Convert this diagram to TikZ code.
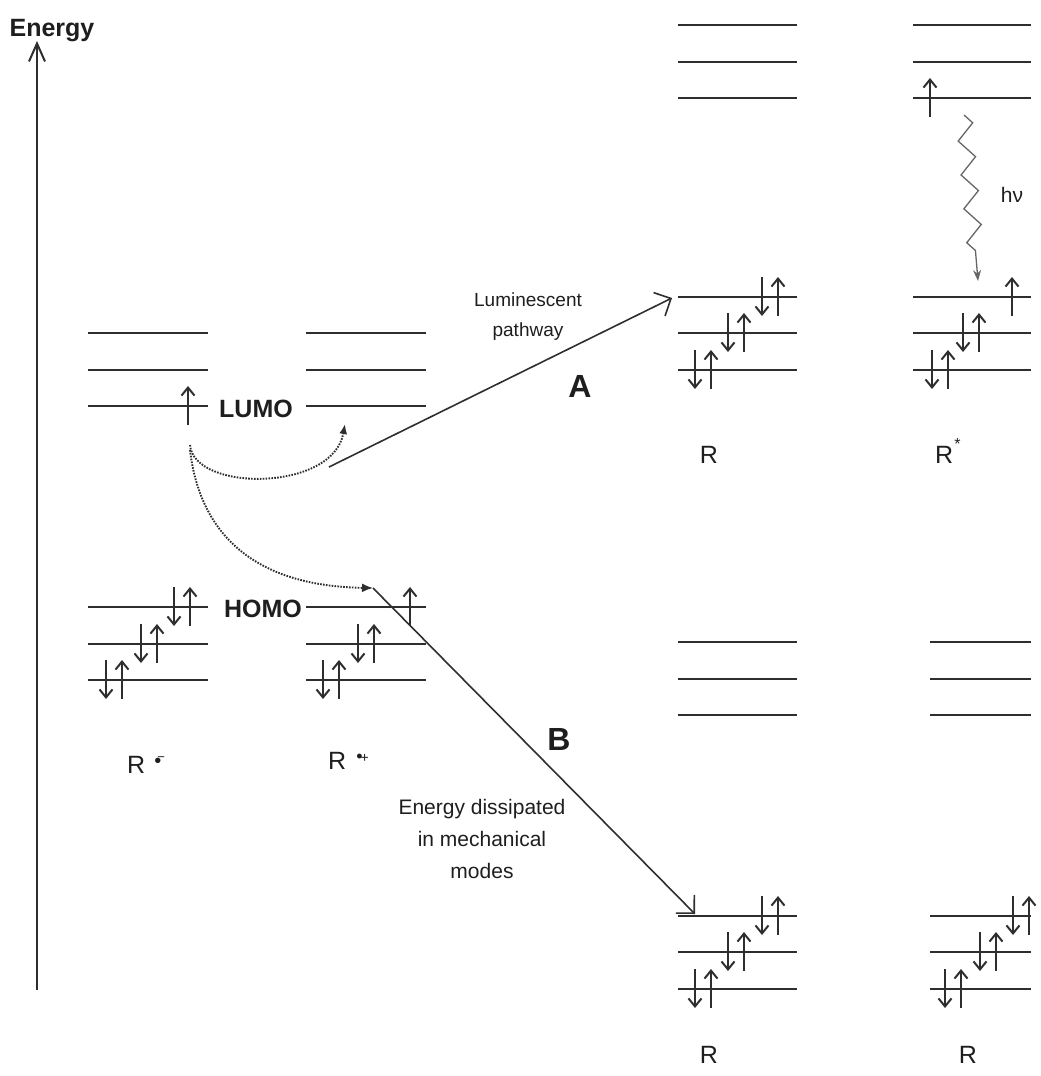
\documentclass[tikz,border=0pt]{standalone}
\usepackage{fontspec}
\setmainfont{Liberation Sans}
\usetikzlibrary{arrows.meta,decorations.pathmorphing}
\definecolor{ink}{HTML}{2E2E2E}
\definecolor{txt}{HTML}{1E1E1E}
\newcommand\lev[3]{\draw[level] (#1,#3) -- (#2,#3);}
\newcommand\spinup[2]{\draw[spin] (#1,#2+19) -- (#1,#2-20);}
\newcommand\spindn[2]{\draw[spin] (#1,#2-20) -- (#1,#2+19);}
\newcommand\spinpair[2]{\spindn{#1}{#2}\spinup{#1+16}{#2}}
\begin{document}
\begin{tikzpicture}[x=1pt,y=-1pt,
  level/.style={draw=ink,line width=1.6pt},
  spin/.style={draw=ink,line width=2pt,-{Straight Barb[length=8pt,width=13pt]}},
  bold/.style={text=txt,font=\fontsize{25}{28}\selectfont\bfseries,anchor=base,inner sep=0pt},
  big/.style={text=txt,font=\fontsize{32}{34}\selectfont\bfseries,anchor=base,inner sep=0pt},
  plain/.style={text=txt,font=\fontsize{25}{28}\selectfont,anchor=base,inner sep=0pt},
  small/.style={text=txt,anchor=base,inner sep=0pt,align=center},
  path/.style={draw=ink,line width=1.6pt,-{Straight Barb[length=13pt,width=26pt]}},
  dots/.style={draw=ink,line width=1.9pt,dash pattern=on 1.6pt off 1.3pt},
]
\useasboundingbox (0,0) rectangle (1041,1076);

% energy axis
\node[bold] (energy) at (52,36) {Energy};
\coordinate (ax0) at (37,990);
\coordinate (ax1) at (37,41);
\draw[draw=ink,line width=2pt,-{Straight Barb[length=18pt,width=16pt]}] (ax0) -- (ax1);

% column 1 (R radical anion)
\foreach \y in {333,370,406,607,644,680} {\lev{88}{208}{\y}}
\spinup{188}{406}
\spinpair{174}{607}
\spinpair{141}{644}
\spinpair{106}{680}
\node[bold] (lumo) at (256,417) {LUMO};
\node[bold] (homo) at (263,617) {HOMO};
\node[plain,anchor=base west] (rm) at (127,773) {R\kern9pt\raisebox{6pt}{\fontsize{20}{20}\selectfont •}\kern-4pt\raisebox{12pt}{\fontsize{13}{13}\selectfont −}};

% column 2 (R radical cation)
\foreach \y in {333,370,406,607,644,680} {\lev{306}{426}{\y}}
\spinup{410}{607}
\spinpair{358}{644}
\spinpair{323}{680}
\node[plain,anchor=base west] (rp) at (328,769) {R\kern10pt\raisebox{7pt}{\fontsize{18}{18}\selectfont •}\kern-2pt\raisebox{7pt}{\fontsize{14}{14}\selectfont +}};

% column 3 top (R)
\foreach \y in {25,62,98,297,333,370} {\lev{678}{797}{\y}}
\spinpair{762}{297}
\spinpair{728}{333}
\spinpair{695}{370}
\node[plain] (r1) at (709,463) {R};

% column 4 top (R*)
\foreach \y in {25,62,98,297,333,370} {\lev{913}{1031}{\y}}
\spinup{930}{98}
\spinup{1012}{297}
\spinpair{963}{333}
\spinpair{932}{370}
\node[plain,anchor=base west] (r2) at (935,463) {R\kern1pt\raisebox{14pt}{\fontsize{16}{16}\selectfont *}};

% column 3 bottom (R)
\foreach \y in {642,679,715,916,952,989} {\lev{678}{797}{\y}}
\spinpair{762}{916}
\spinpair{728}{952}
\spinpair{695}{989}
\node[plain] (r3) at (709,1063) {R};

% column 4 bottom (R)
\foreach \y in {642,679,715,916,952,989} {\lev{930}{1031}{\y}}
\spinpair{1013}{916}
\spinpair{980}{952}
\spinpair{945}{989}
\node[plain] (r4) at (968,1063) {R};

% photon emission
\coordinate (hv0) at (964,115);
\coordinate (hv1) at (978,281);
\draw[draw=gray!80!black,line width=1.3pt,decorate,
  decoration={zigzag,segment length=34pt,amplitude=8pt,post length=14pt},
  -{Stealth[length=11pt,width=8pt]}] (hv0) -- (hv1);
\node[small,font=\fontsize{21}{24}\selectfont] (hv) at (1012,202) {hν};

% electron transfer (dotted)
\coordinate (e0) at (190,445);
\coordinate (e1) at (190,450);
\coordinate (lumoend) at (345,424);
\coordinate (homoend) at (373,588);
\draw[dots,-{Latex[length=10pt,width=8pt]}] (e0) .. controls (194,492) and (333,492) .. (lumoend);
\draw[dots,-{Latex[length=11pt,width=9pt]}] (e1) .. controls (200,535) and (255,586) .. (homoend);

% pathways
\coordinate (a0) at (329,467);
\coordinate (a1) at (672,298);
\coordinate (b1) at (695,914);
\draw[path] (a0) -- (a1);
\draw[path] (homoend) -- (b1);

\node[small,font=\fontsize{19}{30}\selectfont] (lum) at (528,336) {Luminescent\\pathway};
\node[big] (la) at (580,397) {A};
\node[big] (lb) at (559,750) {B};
\node[small,font=\fontsize{21}{32}\selectfont] (diss) at (482,878) {Energy dissipated\\in mechanical\\modes};
\end{tikzpicture}
\end{document}
